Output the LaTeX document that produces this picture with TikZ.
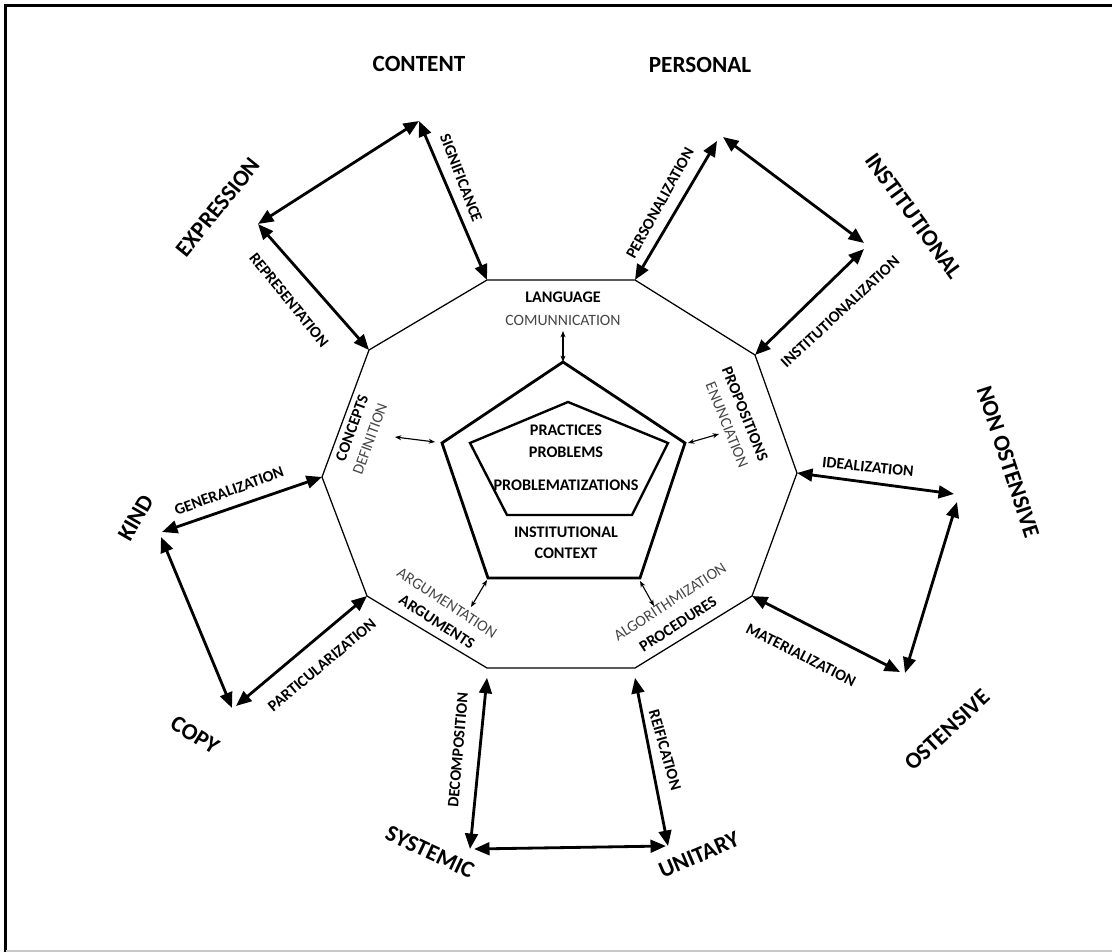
\documentclass[tikz,border=0pt]{standalone}
\usepackage{fontspec}
\setmainfont{Carlito}
\usetikzlibrary{arrows.meta}
\definecolor{textgray}{HTML}{464646}
\definecolor{framegray}{HTML}{C8C8C8}
\begin{document}
\begin{tikzpicture}[x=0.025cm,y=-0.025cm,
  big/.style={font=\bfseries\fontsize{16.5}{18}\selectfont, inner sep=0pt},
  mid/.style={font=\bfseries\fontsize{11.3}{13}\selectfont, inner sep=0pt},
  inn/.style={font=\bfseries\fontsize{11.5}{13}\selectfont, inner sep=0pt},
  grey/.style={font=\fontsize{11.2}{13}\selectfont, text=textgray, inner sep=0pt},
  bigarrow/.style={line width=2pt, {Triangle[length=11pt,width=9pt]}-{Triangle[length=11pt,width=9pt]}},
  smallarrow/.style={line width=0.8pt, {Stealth[length=4.5pt,width=3.5pt]}-{Stealth[length=4.5pt,width=3.5pt]}},
  deca/.style={line width=0.9pt, line join=miter},
  pentout/.style={line width=2pt, line join=miter},
  pentin/.style={line width=1.7pt, line join=miter},
  frameline/.style={line width=2.2pt}
]
\useasboundingbox (0,0) rectangle (1112,952);
% frame
\draw[frameline] (5.5,4) -- (5.5,952);
\draw[frameline] (4,5.5) -- (1112,5.5);
\draw[framegray, line width=0.8pt] (6,951) -- (1112,951);

% decagon
\coordinate (d1) at (487,280);
\coordinate (d2) at (635,280);
\coordinate (d3) at (755,355);
\coordinate (d4) at (797,473);
\coordinate (d5) at (752,596);
\coordinate (d6) at (635,668);
\coordinate (d7) at (487,668);
\coordinate (d8) at (367,596);
\coordinate (d9) at (322,477);
\coordinate (d10) at (369,350);
\draw[deca] (d1) -- (d2) -- (d3) -- (d4) -- (d5) -- (d6) -- (d7) -- (d8) -- (d9) -- (d10) -- cycle;

% pentagons
\coordinate (p1) at (563,362);
\coordinate (p2) at (685,443);
\coordinate (p3) at (640,578);
\coordinate (p4) at (488,578);
\coordinate (p5) at (442,443);
\draw[pentout] (p1) -- (p2) -- (p3) -- (p4) -- (p5) -- cycle;
\coordinate (q1) at (568,402);
\coordinate (q2) at (668,443);
\coordinate (q3) at (632,515);
\coordinate (q4) at (507,515);
\coordinate (q5) at (470,443);
\draw[pentin] (q1) -- (q2) -- (q3) -- (q4) -- (q5) -- cycle;

% centre texts
\node[inn] (practices) at (566,430) {PRACTICES};
\node[inn] (problems) at (566,452) {PROBLEMS};
\node[inn] (problematizations) at (566,485) {PROBLEMATIZATIONS};
\node[inn] (institutional) at (566,532) {INSTITUTIONAL};
\node[inn] (context) at (566,553) {CONTEXT};

% decagon inner labels
\node[inn] (language) at (563,297) {LANGUAGE};
\node[grey] (comunnication) at (563,320) {COMUNNICATION};
\node[mid, rotate=70] (concepts) at (352,428) {CONCEPTS};
\node[grey, rotate=70] (definition) at (370,439) {DEFINITION};
\node[mid, rotate=-68] (propositions) at (745,414) {PROPOSITIONS};
\node[grey, rotate=-68] (enunciation) at (727,425) {ENUNCIATION};
\node[grey, rotate=-33] (argumentation) at (447,603) {ARGUMENTATION};
\node[mid, rotate=-33] (arguments) at (437,622) {ARGUMENTS};
\node[grey, rotate=33] (algorithmization) at (670,602) {ALGORITHMIZATION};
\node[mid, rotate=33] (procedures) at (678,624) {PROCEDURES};

% small arrows
\coordinate (sa1) at (563,331);
\draw[smallarrow] (sa1) -- (p1);
\coordinate (sa2) at (395,437);
\coordinate (sa2b) at (435,442);
\draw[smallarrow] (sa2) -- (sa2b);
\coordinate (sa3) at (688,443);
\coordinate (sa3b) at (719,434);
\draw[smallarrow] (sa3) -- (sa3b);
\coordinate (sa4) at (487,580);
\coordinate (sa4b) at (471,607);
\draw[smallarrow] (sa4) -- (sa4b);
\coordinate (sa5) at (640,581);
\coordinate (sa5b) at (654,606);
\draw[smallarrow] (sa5) -- (sa5b);

% outer points
\coordinate (eT) at (419,121);
\coordinate (eL) at (258,224);
\coordinate (pTa) at (717,141);
\coordinate (pTb) at (723,137);
\coordinate (iRa) at (864,243);
\coordinate (iRb) at (864,249);
\coordinate (nRa) at (954,494);
\coordinate (nRb) at (957,502);
\coordinate (oBa) at (905,673);
\coordinate (oBb) at (900,672);
\coordinate (uRa) at (668,846);
\coordinate (uRb) at (666,846);
\coordinate (sLa) at (470,849);
\coordinate (sLb) at (474,849);
\coordinate (cBa) at (232,708);
\coordinate (cBb) at (236,706);
\coordinate (kLa) at (162,532);
\coordinate (kLb) at (161,537);

% outer arrows
\draw[bigarrow] (eL) -- (eT);
\draw[bigarrow] (eT) -- (d1);
\draw[bigarrow] (eL) -- (d10);
\draw[bigarrow] (d2) -- (pTa);
\draw[bigarrow] (pTb) -- (iRa);
\draw[bigarrow] (iRb) -- (d3);
\draw[bigarrow] (d4) -- (nRa);
\draw[bigarrow] (nRb) -- (oBa);
\draw[bigarrow] (d5) -- (oBb);
\draw[bigarrow] (uRa) -- ([yshift=-7]d6);
\draw[bigarrow] (sLa) -- ([yshift=-7]d7);
\draw[bigarrow] (sLb) -- (uRb);
\draw[bigarrow] (cBb) -- (d8);
\draw[bigarrow] (kLb) -- (cBa);
\draw[bigarrow] (kLa) -- (d9);

% outer labels
\node[big] (content) at (419,64) {CONTENT};
\node[big] (personal) at (700,65) {PERSONAL};
\node[big, rotate=51] (expression) at (218,207) {EXPRESSION};
\node[big, rotate=-54] (institutionalL) at (914,216) {INSTITUTIONAL};
\node[big, rotate=-72] (nonostensive) at (1008,462) {NON OSTENSIVE};
\node[big, rotate=43] (ostensive) at (947,730) {OSTENSIVE};
\node[big, rotate=23] (unitary) at (699,855) {UNITARY};
\node[big, rotate=-25] (systemic) at (430,852) {SYSTEMIC};
\node[big, rotate=-32] (copy) at (195,735) {COPY};
\node[big, rotate=60] (kind) at (136,518) {KIND};

\node[mid, rotate=-69] (significance) at (461,178) {SIGNIFICANCE};
\node[mid, rotate=-51] (representation) at (289,300) {REPRESENTATION};
\node[mid, rotate=61] (personalization) at (660,203) {PERSONALIZATION};
\node[mid, rotate=43] (institutionalization) at (840,312) {INSTITUTIONALIZATION};
\node[mid, rotate=-6] (idealization) at (868,467) {IDEALIZATION};
\node[mid, rotate=-27] (materialization) at (801,655) {MATERIALIZATION};
\node[mid, rotate=20] (generalization) at (229,491) {GENERALIZATION};
\node[mid, rotate=40] (particularization) at (322,665) {PARTICULARIZATION};
\node[mid, rotate=85] (decomposition) at (458,750) {DECOMPOSITION};
\node[mid, rotate=-74] (reification) at (665,750) {REIFICATION};
\end{tikzpicture}
\end{document}
